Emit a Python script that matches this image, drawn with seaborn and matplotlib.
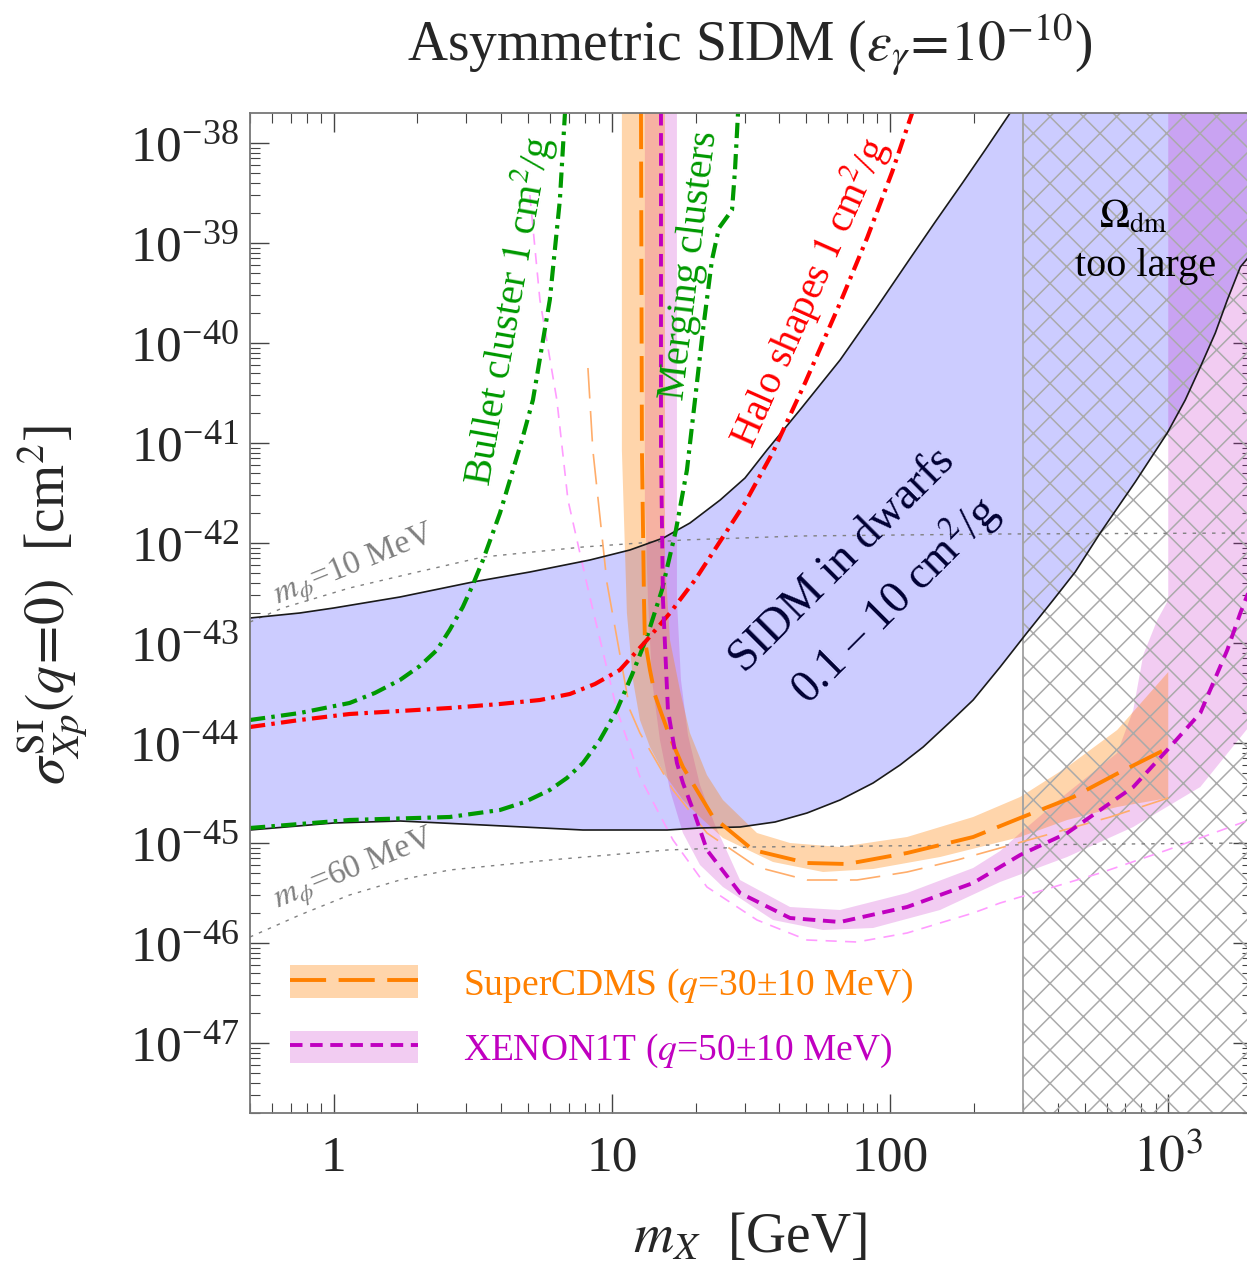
import numpy as np
import pandas as pd
import seaborn as sns
import matplotlib.pyplot as plt
from matplotlib.patches import Patch
from matplotlib.lines import Line2D
from matplotlib.ticker import (LogLocator, FixedLocator, FixedFormatter, NullFormatter,
                               LogFormatterMathtext)

# masses m_X in GeV, cross sections as log10(sigma / cm^2)
dwarf_hi_m = [0.5, 0.755, 1.0, 1.73, 3.16, 5.07, 8.33, 11.6, 15.3, 19.08, 24.5, 30.09, 36.1,
              47.4, 66.1, 88.3, 117, 145.2, 182, 219.6, 270]
dwarf_hi_s = [-42.75, -42.70, -42.65, -42.54, -42.39, -42.29, -42.17, -42.07, -41.95, -41.80,
              -41.57, -41.35, -41.07, -40.67, -40.17, -39.67, -39.17, -38.79, -38.40, -38.07, -37.70]
dwarf_lo_m = [0.5, 1.0, 1.73, 3.44, 7.87, 15.8, 20.7, 28.9, 38.6, 50.3, 66.1, 86.9, 108.6,
              131.5, 164.3, 198.9, 248.7, 306, 385.8, 462.8, 569.3, 760.7, 991.7, 1151, 1304,
              1476, 1630, 1816, 2000]
dwarf_lo_s = [-44.87, -44.80, -44.78, -44.82, -44.87, -44.87, -44.85, -44.84, -44.79, -44.70,
              -44.57, -44.40, -44.22, -44.04, -43.79, -43.57, -43.24, -42.92, -42.57, -42.29,
              -41.90, -41.39, -40.90, -40.57, -40.24, -39.90, -39.57, -39.24, -39.10]

bullet_m = [0.5, 0.755, 1.14, 1.405, 1.73, 2.04, 2.35, 2.61, 2.91, 3.16, 3.44, 3.96, 4.30,
            4.75, 5.20, 5.98, 6.50, 6.78]
bullet_s = [-43.77, -43.70, -43.60, -43.50, -43.37, -43.23, -43.07, -42.87, -42.64, -42.42,
            -42.17, -41.70, -41.37, -40.97, -40.57, -39.57, -38.57, -37.70]

merging_m = [0.5, 1.14, 2.61, 3.96, 4.86, 5.98, 6.89, 7.87, 9.05, 10.42, 11.8, 13.36, 15.13,
             16.99, 18.61, 19.89, 21.25, 22.89, 24.26, 27.03, 27.70, 28.40]
merging_s = [-44.85, -44.77, -44.74, -44.67, -44.59, -44.47, -44.35, -44.20, -43.97, -43.67,
             -43.32, -42.94, -42.47, -41.87, -41.27, -40.57, -39.87, -39.17, -38.85, -38.67,
             -38.27, -37.70]

halo_m = [0.5, 0.755, 1.14, 1.73, 2.61, 3.96, 5.51, 7.06, 8.69, 10.68, 13.36, 16.17, 19.89,
          25.07, 30.09, 37.94, 49.45, 66.09, 82.66, 101.7, 120]
halo_s = [-43.84, -43.77, -43.71, -43.68, -43.65, -43.61, -43.57, -43.51, -43.41, -43.27,
          -42.97, -42.70, -42.37, -41.94, -41.60, -41.09, -40.40, -39.60, -38.95, -38.29, -37.70]

mphi10_m = [0.5, 0.655, 1.14, 2.0, 3.44, 7.87, 18.0, 47.4, 249, 2000]
mphi10_s = [-42.79, -42.65, -42.45, -42.29, -42.14, -42.04, -41.97, -41.93, -41.91, -41.90]
mphi60_m = [0.5, 0.755, 1.14, 1.73, 2.61, 5.98, 15.8, 31.4, 249, 2000]
mphi60_s = [-45.94, -45.72, -45.52, -45.37, -45.27, -45.17, -45.07, -45.04, -45.02, -45.00]

cdms_m = [12.72, 12.82, 13.04, 13.14, 13.70, 14.28, 15.13, 16.17, 18.00, 23.09, 32.16, 50.27,
          70.03, 115.1, 198.9, 293.5, 455.3, 671.9, 1000]
cdms_s = [-37.70, -41.07, -42.57, -42.97, -43.27, -43.52, -43.72, -43.94, -44.24, -44.74,
          -45.07, -45.20, -45.21, -45.10, -44.94, -44.75, -44.54, -44.29, -44.05]
cdms_lo_m = [10.86, 10.86, 11.32, 11.90, 12.61, 13.70, 15.51, 18.00, 20.73, 25.07, 37.94,
             57.41, 86.87, 151.3, 293.5, 433.1, 655.4, 1000]
cdms_lo_s = [-37.70, -41.07, -42.70, -43.37, -43.77, -44.04, -44.32, -44.57, -44.74, -44.95,
             -45.19, -45.29, -45.26, -45.14, -44.94, -44.77, -44.64, -44.55]
cdms_hi_m = [15.51, 15.51, 16.17, 17.56, 19.08, 21.96, 25.07, 33.23, 43.69, 66.09, 115.1,
             198.9, 293.5, 433.1, 655.4, 1000]
cdms_hi_s = [-37.70, -42.17, -42.97, -43.47, -43.90, -44.32, -44.57, -44.90, -45.00, -45.04,
             -44.94, -44.74, -44.54, -44.24, -43.87, -43.29]
cdms_thin_m = [8.20, 8.54, 9.60, 11.61, 12.61, 16.58, 21.96, 33.23, 50.27, 76.08, 115.1,
               174.2, 248.7, 618.6, 1000]
cdms_thin_s = [-40.25, -41.07, -42.40, -43.67, -43.90, -44.47, -44.90, -45.24, -45.37, -45.37,
               -45.29, -45.17, -45.05, -44.74, -44.55]

xenon_m = [15.01, 15.01, 15.26, 15.90, 17.13, 18.00, 19.89, 21.96, 28.87, 43.69, 66.09, 115.1,
           198.9, 293.5, 433.1, 748.5, 991.7, 1304, 1630, 1816, 2000]
xenon_s = [-37.70, -41.07, -42.57, -43.67, -44.20, -44.40, -44.72, -45.07, -45.50, -45.75,
           -45.79, -45.64, -45.40, -45.12, -44.90, -44.44, -44.07, -43.70, -43.07, -42.70, -42.40]
xenon_lo_m = [13.14, 13.14, 13.48, 13.93, 14.88, 16.17, 18.00, 20.73, 25.07, 37.94, 57.41,
              86.87, 151.3, 248.7, 433.1, 748.5, 1304, 2000]
xenon_lo_s = [-37.70, -41.57, -42.57, -43.37, -43.97, -44.47, -44.90, -45.22, -45.44, -45.77,
              -45.87, -45.85, -45.67, -45.39, -45.14, -44.84, -44.44, -43.80]
xenon_hi_m = [17.13, 17.13, 17.71, 18.77, 20.73, 23.48, 28.87, 43.69, 66.09, 115.1, 198.9,
              248.7, 293.5, 433.1, 655.4, 748.5, 813.1, 912.9, 1000, 1000]
xenon_hi_s = [-37.70, -42.57, -43.37, -43.92, -44.42, -44.82, -45.37, -45.64, -45.67, -45.50,
              -45.25, -45.08, -44.90, -44.50, -44.10, -43.67, -43.12, -42.77, -42.57, -37.70]
xenon_thin_m = [5.07, 5.51, 6.34, 6.95, 8.33, 10.42, 12.61, 16.58, 21.96, 33.23, 50.27, 76.08,
                115.1, 198.9, 248.7, 569.3, 991.7, 2000]
xenon_thin_s = [-38.52, -39.57, -40.57, -41.57, -42.54, -43.67, -44.34, -44.97, -45.44, -45.77,
                -45.97, -45.99, -45.90, -45.70, -45.60, -45.30, -45.07, -44.76]

relic_m_min = 300      # Omega_dm too large above this mass
x_range = (0.5, 2000)
log_y_range = (-47.7, -37.7)
x_ticks = [1, 10, 100, 1000]
x_tick_labels = ["1", "10", "100", r"$10^3$"]
y_tick_exps = list(range(-47, -37))

sns.set_theme(style="ticks")
plt.rcParams.update({
    "font.family": "serif",
    "font.serif": ["Liberation Serif", "DejaVu Serif"],
    "mathtext.fontset": "stix",
    "lines.scale_dashes": False,
    "hatch.linewidth": 1.1,
})

ORANGE = "#ff8000"
MAGENTA = "#c000c0"
GREEN = "#009900"

fig = plt.figure(figsize=(12.47, 12.67), dpi=100)
ax = fig.add_axes([250 / 1247, 154 / 1267, 1002 / 1247, 1000 / 1267])
ax.set_xscale("log")
ax.set_yscale("log")
ax.set_xlim(*x_range)
ax.set_ylim(10 ** log_y_range[0], 10 ** log_y_range[1])


def curve(m, logs, **kw):
    df = pd.DataFrame({"m": m, "sigma": 10.0 ** np.asarray(logs)})
    sns.lineplot(data=df, x="m", y="sigma", sort=False, estimator=None, ax=ax, **kw)


def band(lo_m, lo_s, hi_m, hi_s, **kw):
    xs = list(lo_m) + list(hi_m)[::-1]
    ys = list(lo_s) + list(hi_s)[::-1]
    ax.fill(xs, 10.0 ** np.asarray(ys), **kw)


# SIDM in dwarfs region
band(dwarf_lo_m, dwarf_lo_s, dwarf_hi_m + [x_range[1]], dwarf_hi_s + [log_y_range[1]],
     facecolor="#ccccff", edgecolor="none", zorder=1)

# direct detection bands
band(xenon_lo_m + [x_range[1]], xenon_lo_s + [log_y_range[1]], xenon_hi_m, xenon_hi_s,
     facecolor="#c000c0", alpha=0.2, edgecolor="none", zorder=2)
band(cdms_lo_m, cdms_lo_s, cdms_hi_m, cdms_hi_s,
     facecolor=ORANGE, alpha=0.33, edgecolor="none", zorder=2.1)

# relic abundance excluded region
ax.axvspan(relic_m_min, x_range[1], facecolor="none", edgecolor="#aaaaaa", hatch="x",
           linewidth=0, zorder=2.5)
ax.axvline(relic_m_min, color="#a0a0a0", lw=1.3, zorder=2.6)

curve(dwarf_hi_m, dwarf_hi_s, color="k", lw=1.2, zorder=4)
curve(dwarf_lo_m, dwarf_lo_s, color="k", lw=1.2, zorder=4)

curve(mphi10_m, mphi10_s, color="#808080", lw=1.0, linestyle=(0, (2.5, 4.5)), zorder=3)
curve(mphi60_m, mphi60_s, color="#808080", lw=1.0, linestyle=(0, (2.5, 4.5)), zorder=3)

curve(cdms_thin_m, cdms_thin_s, color="#ffad6b", lw=1.2, linestyle=(0, (22, 9)), zorder=3)
curve(xenon_thin_m, xenon_thin_s, color="#ff9cff", lw=1.2, linestyle=(0, (8, 6)), zorder=3)

dashdot = (0, (11, 4.5, 2.5, 4.5))
curve(bullet_m, bullet_s, color=GREEN, lw=3.0, linestyle=dashdot, zorder=5)
curve(merging_m, merging_s, color=GREEN, lw=3.0, linestyle=dashdot, zorder=5)
curve(halo_m, halo_s, color="red", lw=3.0, linestyle=dashdot, zorder=5)

curve(cdms_m, cdms_s, color=ORANGE, lw=2.8, linestyle=(0, (26, 9)), zorder=5)
curve(xenon_m, xenon_s, color=MAGENTA, lw=2.8, linestyle=(0, (9, 5.5)), zorder=5)

# axes styling
ax.xaxis.set_major_locator(FixedLocator(x_ticks))
ax.xaxis.set_major_formatter(FixedFormatter(x_tick_labels))
ax.xaxis.set_minor_locator(LogLocator(base=10, subs=np.arange(2, 10), numticks=30))
ax.xaxis.set_minor_formatter(NullFormatter())
ax.yaxis.set_major_locator(FixedLocator([10.0 ** e for e in y_tick_exps]))
ax.yaxis.set_major_formatter(LogFormatterMathtext())
ax.yaxis.set_minor_locator(LogLocator(base=10, subs=np.arange(2, 10), numticks=60))
ax.yaxis.set_minor_formatter(NullFormatter())
ax.tick_params(which="both", direction="in", top=True, right=True, color="#444444",
               labelsize=37)
ax.tick_params(which="major", length=14, width=1.0)
ax.tick_params(which="minor", length=7, width=0.8)
ax.tick_params(axis="x", which="major", pad=16)
ax.tick_params(axis="y", which="major", pad=8)
for sp in ax.spines.values():
    sp.set_color("#777777")
    sp.set_linewidth(1.3)
    sp.set_zorder(6)
ax.set_xlabel("")
ax.set_ylabel("")

fig.text(750 / 1247, 1 - 1238 / 1267, r"$m_X$  [GeV]", ha="center", va="center", fontsize=40)
fig.text(52 / 1247, 1 - 605 / 1267, r"$\sigma^{\rm SI}_{Xp}(q\!=\!0)$  [cm$^2$]",
         ha="center", va="center", rotation=90, fontsize=40)
fig.text(750 / 1247, 1 - 45 / 1267, r"Asymmetric SIDM ($\varepsilon_\gamma\!=\!10^{-10}$)",
         ha="center", va="center", fontsize=40)


# annotations
def note(x, logy, s, rot, color, size):
    ax.text(x, 10 ** logy, s, rotation=rot, rotation_mode="anchor", ha="center",
            va="center", color=color, fontsize=size, zorder=7)


note(4.23, -39.67, r"Bullet cluster $\mathit{1}$ cm$^2$/g", 80, GREEN, 29)
note(19.1, -39.22, "Merging clusters", 83, GREEN, 29)
note(50.7, -39.49, r"Halo shapes $\mathit{1}$ cm$^2$/g", 66, "red", 29)
note(67.7, -42.17, "SIDM in dwarfs", 45, "#000033", 33)
note(104.2, -42.57, r"0.1 – 10 cm$^2$/g", 45, "#000033", 33)
note(1.19, -42.23, r"$m_\phi$=10 MeV", 22, "#808080", 24)
note(1.19, -45.27, r"$m_\phi$=60 MeV", 22, "#808080", 24)
note(748, -38.75, r"$\Omega_{\rm dm}$", 0, "black", 29)
note(826, -39.24, "too large", 0, "black", 29)

# legend
h_cdms = (Patch(facecolor=ORANGE, alpha=0.33, edgecolor="none"),
          Line2D([], [], color=ORANGE, lw=2.8, linestyle=(0, (26, 9))))
h_xenon = (Patch(facecolor="#c000c0", alpha=0.2, edgecolor="none"),
           Line2D([], [], color=MAGENTA, lw=2.8, linestyle=(0, (9, 5.5))))
ax.legend(handles=[h_cdms, h_xenon],
          labels=[r"SuperCDMS ($q$=30±10 MeV)", r"XENON1T ($q$=50±10 MeV)"],
          loc="lower left", bbox_to_anchor=(0.04, 0.043), frameon=False, fontsize=27,
          labelcolor=[ORANGE, MAGENTA], handlelength=3.4, handleheight=0.95,
          handletextpad=1.2, labelspacing=0.7, borderpad=0, borderaxespad=0)

fig.savefig("out.png", dpi=100)
